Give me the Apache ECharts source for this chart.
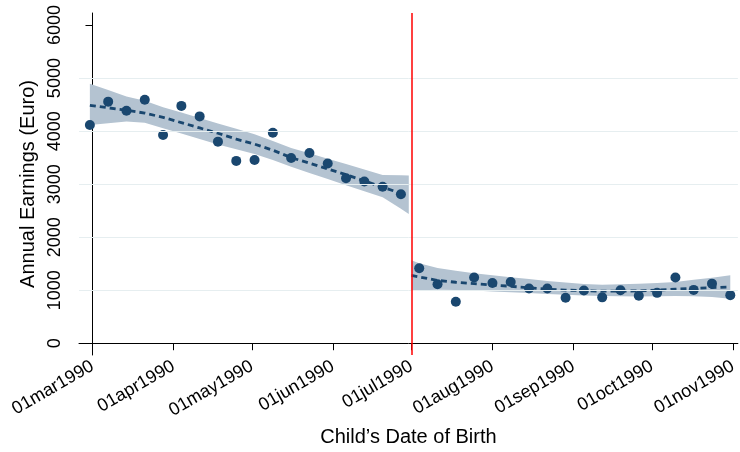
<!DOCTYPE html>
<html>
<head>
<meta charset="utf-8">
<script src="https://cdn.jsdelivr.net/npm/echarts@6/dist/echarts.min.js"></script>
<style>
html,body{margin:0;padding:0;background:#fff;}
#chart{width:740px;height:452px;}
</style>
</head>
<body>
<div id="chart"></div>
<script>
// ---- data ----
const pointDates = [
  '1990-02-28','1990-03-07','1990-03-14','1990-03-21','1990-03-28','1990-04-04',
  '1990-04-11','1990-04-18','1990-04-25','1990-05-02','1990-05-09','1990-05-16',
  '1990-05-23','1990-05-30','1990-06-06','1990-06-13','1990-06-20','1990-06-27',
  '1990-07-04','1990-07-11','1990-07-18','1990-07-25','1990-08-01','1990-08-08',
  '1990-08-15','1990-08-22','1990-08-29','1990-09-05','1990-09-12','1990-09-19',
  '1990-09-26','1990-10-03','1990-10-10','1990-10-17','1990-10-24','1990-10-31'
];
const earnings = [
  4117,4556,4383,4593,3926,4476,4278,3802,3439,3457,3969,3494,3587,3389,3111,3050,2950,2809,
  1413,1111,783,1241,1135,1154,1031,1031,857,994,865,1000,894,950,1241,1006,1124,907
];

// left side fit & confidence band
const leftFitDates = pointDates.slice(0, 18);
const leftFit = [4487,4440,4395,4340,4260,4160,4060,3960,3850,3755,3640,3500,3396,3288,3180,3060,2945,2825];
const leftBandDates = pointDates.slice(0, 18).concat(['1990-06-30']);
const leftUpper = [4894,4778,4654,4572,4452,4350,4248,4146,4044,3943,3815,3683,3581,3480,3378,3276,3174,3167,3161];
const leftLower = [4117,4148,4180,4157,4056,3954,3852,3750,3657,3567,3454,3326,3211,3096,2981,2867,2752,2537,2439];

// right side fit & confidence band
const rightDates = ['1990-07-01'].concat(pointDates.slice(18));
const rightFit = [1278,1250,1185,1150,1124,1098,1074,1046,1019,1003,990,981,982,987,1000,1019,1034,1049,1062];
const rightUpper = [1565,1510,1420,1365,1320,1283,1246,1210,1172,1145,1115,1105,1110,1124,1138,1154,1195,1235,1280];
const rightLower = [995,1000,1010,1005,995,975,960,945,930,915,900,890,885,880,885,890,885,870,840];

const cutoffDate = '1990-07-01';
const tickDates = ['1990-03-01','1990-04-01','1990-05-01','1990-06-01','1990-07-01','1990-08-01','1990-09-01','1990-10-01','1990-11-01'];
const tickLabels = ['01mar1990','01apr1990','01may1990','01jun1990','01jul1990','01aug1990','01sep1990','01oct1990','01nov1990'];
const yTicks = [0,1000,2000,3000,4000,5000,6000];
const yGrid = [1000,2000,3000,4000,5000];

// ---- helpers ----
function dayNum(s){
  const p = s.split('-').map(Number);
  return (Date.UTC(p[0],p[1]-1,p[2]) - Date.UTC(1990,2,1)) / 86400000;
}
function pairs(dates, vals){ return dates.map((d,i)=>[dayNum(d), vals[i]]); }
function bandRows(dates, lo, hi){ return dates.map((d,i)=>[dayNum(d), lo[i], hi[i]]); }

const tickDays = tickDates.map(dayNum);
const NAVY = '#1a476f';
const BAND = '#b4c3d1';
const FONT = 'Liberation Sans';

function bandSeries(name, rows){
  return {
    name:name, type:'custom', data:rows, silent:true, z:2,
    encode:{x:0, y:[1,2]},
    renderItem:function(params, api){
      if (params.dataIndex !== 0) return null;
      const top = rows.map(r=>api.coord([r[0], r[2]]));
      const bot = rows.map(r=>api.coord([r[0], r[1]])).reverse();
      return {type:'polygon', shape:{points: top.concat(bot)}, style:{fill:BAND, stroke:null}};
    }
  };
}

const chart = echarts.init(document.getElementById('chart'), null, {renderer:'canvas'});
chart.setOption({
  animation:false,
  backgroundColor:'#fff',
  textStyle:{fontFamily:FONT},
  grid:{left:79, right:2, top:13, bottom:91, containLabel:false},
  xAxis:{
    type:'value', min:-5.16, max:246.9,
    name:'Child\u2019s Date of Birth', nameLocation:'middle', nameGap:72,
    nameTextStyle:{fontSize:20, color:'#000', fontFamily:FONT},
    axisLine:{show:true, lineStyle:{color:'#000', width:1}},
    axisTick:{show:true, length:7, lineStyle:{color:'#000'}, customValues:tickDays},
    axisLabel:{
      customValues:tickDays, rotate:30, fontSize:18, color:'#000', margin:10, fontFamily:FONT,
      formatter:(v)=>{ const i = tickDays.indexOf(v); return i>=0 ? tickLabels[i] : ''; }
    },
    splitLine:{show:false}
  },
  yAxis:{
    type:'value', min:-222, max:6228,
    name:'Annual Earnings (Euro)', nameLocation:'middle', nameGap:40, nameRotate:90,
    nameTextStyle:{fontSize:20, color:'#000', fontFamily:FONT},
    axisLine:{show:true, lineStyle:{color:'#000', width:1}},
    axisTick:{show:true, length:7, lineStyle:{color:'#000'}, customValues:yTicks},
    axisLabel:{customValues:yTicks, rotate:90, fontSize:18, color:'#000', margin:15, fontFamily:FONT,
      formatter:(v)=>String(v)},
    splitLine:{show:false}
  },
  series:[
    {
      name:'grid', type:'line', data:[], silent:true, z:1,
      markLine:{
        silent:true, symbol:['none','none'], label:{show:false},
        lineStyle:{color:'#e6eef0', width:1, type:'solid'},
        data: yGrid.map(v=>({yAxis:v}))
      }
    },
    bandSeries('bandL', bandRows(leftBandDates, leftLower, leftUpper)),
    bandSeries('bandR', bandRows(rightDates, rightLower, rightUpper)),
    {
      name:'fitL', type:'line', data:pairs(leftFitDates, leftFit), symbol:'none', z:3,
      lineStyle:{color:NAVY, width:2.8, type:[6,4]}
    },
    {
      name:'fitR', type:'line', data:pairs(rightDates, rightFit), symbol:'none', z:3,
      lineStyle:{color:NAVY, width:2.8, type:[6,4]}
    },
    {
      name:'points', type:'scatter', data:pairs(pointDates, earnings), z:4,
      symbol:'circle', symbolSize:10, itemStyle:{color:NAVY, opacity:1},
      markLine:{
        silent:true, symbol:['none','none'], label:{show:false},
        lineStyle:{color:'#ff0000', width:1.5, type:'solid'},
        data:[{xAxis:dayNum(cutoffDate)}]
      }
    }
  ]
});
</script>
</body>
</html>
